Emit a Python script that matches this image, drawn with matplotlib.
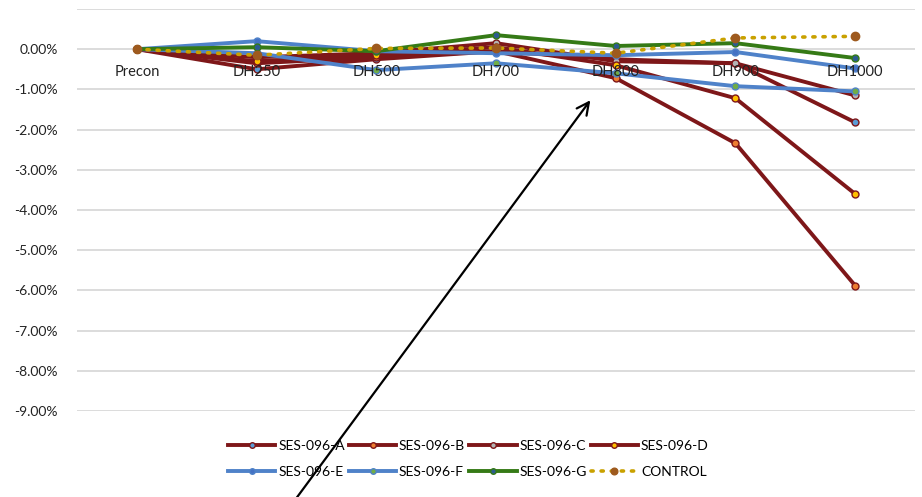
import matplotlib
matplotlib.use("Agg")
import matplotlib.pyplot as plt
from matplotlib.ticker import FuncFormatter
from matplotlib.transforms import offset_copy

plt.rcParams['font.family'] = ['Lato', 'DejaVu Sans']

# =========================
# Data (% change vs. Precon)
# =========================
stages = ["Precon", "DH250", "DH500", "DH700", "DH800", "DH900", "DH1000"]

ses_a = [0.00, -0.50, -0.25, -0.05, -0.25, -0.35, -1.82]
ses_b = [0.00, -0.35, -0.20, -0.05, -0.72, -2.34, -5.88]
ses_c = [0.00, -0.20, -0.10, 0.15, -0.30, -0.35, -1.15]
ses_d = [0.00, -0.30, -0.15, 0.05, -0.40, -1.22, -3.60]
ses_e = [0.00, 0.20, -0.05, -0.10, -0.15, -0.07, -0.48]
ses_f = [0.00, -0.10, -0.52, -0.35, -0.60, -0.92, -1.05]
ses_g = [0.00, 0.05, -0.05, 0.35, 0.08, 0.15, -0.22]
control = [0.00, -0.15, 0.02, 0.03, -0.10, 0.28, 0.32]

series_names = ["SES-096-A", "SES-096-B", "SES-096-C", "SES-096-D",
                "SES-096-E", "SES-096-F", "SES-096-G", "CONTROL"]
series_vals = [ses_a, ses_b, ses_c, ses_d, ses_e, ses_f, ses_g, control]

red = "#7E1719"
blue = "#4F82C9"
line_colors = [red, red, red, red, blue, blue, "#357A16", "#C9A100"]
marker_faces = ["#5B9BD5", "#ED7D31", "#B4B4B4", "#FFC000",
                "#4472C4", "#70AD47", "#2C5C8F", "#9E5A1E"]

fig = plt.figure(figsize=(9.22, 4.97), dpi=100)
ax = fig.add_axes([77 / 922, 1 - 411 / 497, 838 / 922, 402 / 497])

x = list(range(len(stages)))
handles = []
for name, vals, lc, mf in zip(series_names, series_vals, line_colors, marker_faces):
    if name == "CONTROL":
        h, = ax.plot(x, vals, color=lc, lw=2.6, ls=(0, (0.6, 2.2)), dash_capstyle="round",
                     marker="o", ms=6, mfc=mf, mec=mf, label=name, zorder=4)
    else:
        h, = ax.plot(x, vals, color=lc, lw=2.8, marker="o", ms=5, mfc=mf, mec=lc,
                     mew=1.0, label=name, zorder=3)
    handles.append(h)

ax.set_xlim(-0.5, len(stages) - 0.5)
ax.set_ylim(-9, 1)
ax.set_yticks(range(-9, 2))
ax.yaxis.set_major_formatter(FuncFormatter(lambda v, p: "" if v > 0.5 else f"{v:.2f}%"))
ax.grid(axis="y", color="#D9D9D9", lw=1.3)
ax.set_axisbelow(True)

# category labels sit just under the 0% line, on top of the lines
ax.set_xticks([])
lab_tr = offset_copy(ax.transData, fig=fig, x=0, y=-11.5, units="points")
for i, s in enumerate(stages):
    ax.text(i, 0, s, transform=lab_tr, ha="center", va="top", fontsize=10.5,
            color="#222222", zorder=10)

for s in ax.spines.values():
    s.set_visible(False)
ax.tick_params(axis="y", length=0, pad=14, labelsize=10, colors="#222222")

# legend filled row by row (A-D on top, E-CONTROL below)
order = [0, 4, 1, 5, 2, 6, 3, 7]
fig.legend([handles[i] for i in order], [series_names[i] for i in order],
           loc="center", bbox_to_anchor=(0.508, 0.077), ncol=4, frameon=False,
           fontsize=10, handlelength=3.4, handletextpad=0.2, columnspacing=0.3,
           labelspacing=1.0, numpoints=1, markerscale=0.8)

# annotation arrow drawn over the chart
fig.add_artist(matplotlib.patches.FancyArrowPatch(
    (295 / 922, 1 - 500 / 497), (592 / 922, 1 - 98 / 497),
    transform=fig.transFigure, arrowstyle="->", mutation_scale=22,
    color="black", lw=1.6, zorder=10))

plt.savefig("out.png", dpi=100)
plt.close()
